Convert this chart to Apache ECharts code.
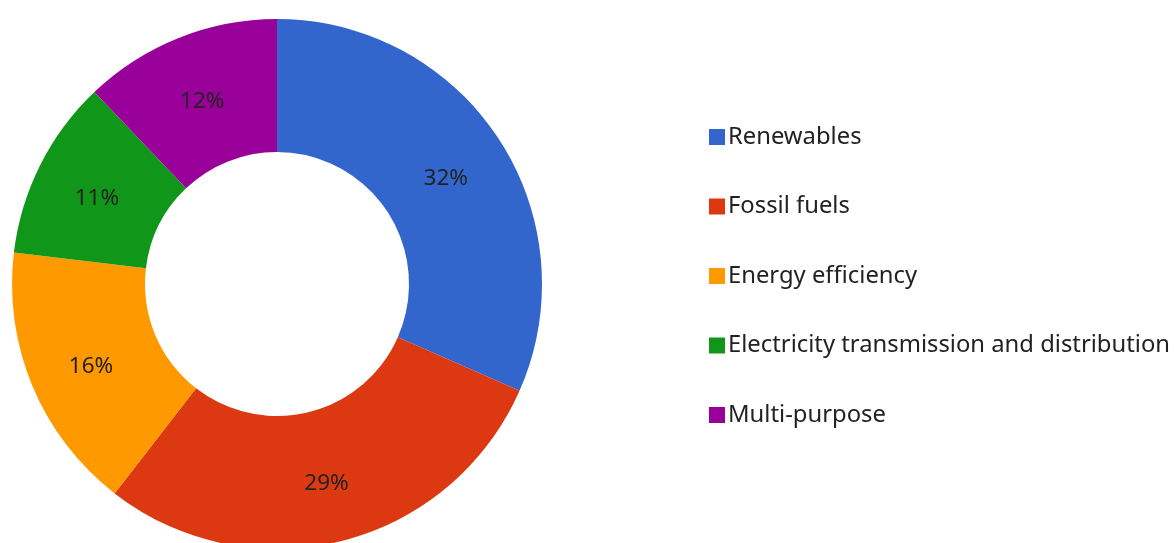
<!DOCTYPE html>
<html>
<head>
<meta charset="utf-8">
<script src="https://cdn.jsdelivr.net/npm/echarts@6/dist/echarts.min.js"></script>
<style>
html,body{margin:0;padding:0;background:#fff;}
#chart{width:1174px;height:543px;}
</style>
</head>
<body>
<div id="chart"></div>
<script>
const categories = ['Renewables', 'Fossil fuels', 'Energy efficiency', 'Electricity transmission and distribution', 'Multi-purpose'];
const values = [31.6, 28.9, 16.4, 11.0, 12.1];
const colors = ['#3366cc', '#dc3912', '#ff9900', '#109618', '#990099'];

const chart = echarts.init(document.getElementById('chart'), null, {renderer: 'canvas'});
const total = values.reduce((a, b) => a + b, 0);
chart.setOption({
  animation: false,
  color: colors,
  legend: {
    orient: 'vertical',
    left: 704,
    top: 119,
    itemWidth: 16,
    itemHeight: 16,
    itemGap: 43.5,
    icon: 'rect',
    data: categories,
    textStyle: {fontFamily: 'Noto Sans', fontSize: 23.8, color: '#222', lineHeight: 26, padding: [0, 0, 0, -2]}
  },
  series: [{
    type: 'pie',
    center: [277, 284],
    radius: [132, 265],
    startAngle: 90,
    clockwise: true,
    avoidLabelOverlap: false,
    label: {
      show: true,
      position: 'inside',
      formatter: p => '{a|' + Math.round(p.value / total * 100) + '%}',
      rich: {
        a: {fontFamily: 'Noto Sans', fontSize: 22.5, color: '#222', padding: [9, 0, 0, 0]}
      }
    },
    labelLine: {show: false},
    emphasis: {disabled: true},
    itemStyle: {borderWidth: 0},
    data: categories.map((c, i) => ({name: c, value: values[i]}))
  }]
});
</script>
</body>
</html>
